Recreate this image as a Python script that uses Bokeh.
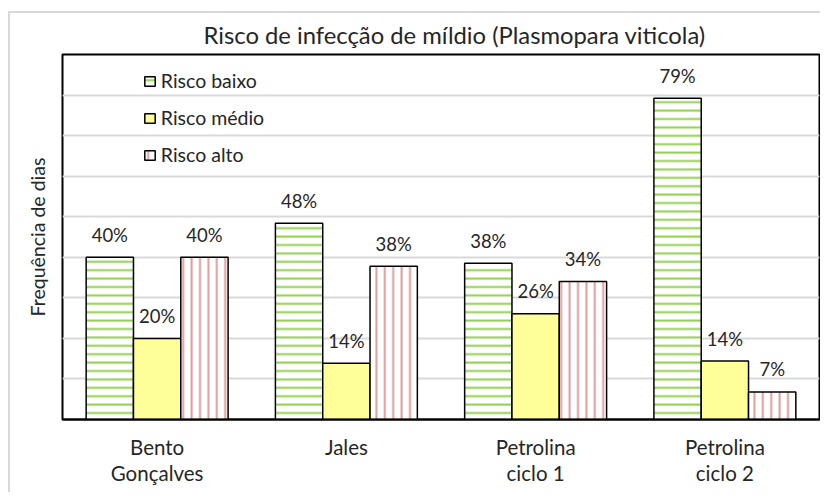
from bokeh.plotting import figure
from bokeh.models import (ColumnDataSource, FactorRange, Range1d, LabelSet, Title,
                          Legend, LegendItem, SingleIntervalTicker, Grid)
from bokeh.core.properties import value
from bokeh.transform import dodge
from bokeh.embed import file_html
from bokeh.resources import INLINE

# ---- data ----
categories = ["Bento\nGonçalves", "Jales", "Petrolina\nciclo 1", "Petrolina\nciclo 2"]
risco_baixo = [0.40, 0.484, 0.385, 0.792]
risco_medio = [0.20, 0.139, 0.261, 0.144]
risco_alto = [0.40, 0.378, 0.340, 0.068]
series_names = ["Risco baixo", "Risco médio", "Risco alto"]
title_text = "Risco de infecção de míldio (Plasmopara viticola)"
y_label = "Frequência de dias"

FONT = "Lato"
TXT = "#262626"

src = ColumnDataSource(dict(
    cat=categories,
    baixo=risco_baixo, medio=risco_medio, alto=risco_alto,
    baixo_lbl=[f"{round(v*100)}%" for v in risco_baixo],
    medio_lbl=[f"{round(v*100)}%" for v in risco_medio],
    alto_lbl=[f"{round(v*100)}%" for v in risco_alto],
))

p = figure(width=812, height=481, x_range=FactorRange(*categories),
           y_range=Range1d(0, 0.9), output_backend="svg", toolbar_location=None,
           y_axis_location=None, title=None,
           min_border_left=52, min_border_right=3, min_border_top=41,
           min_border_bottom=75)
p.styles = {"margin-left": "8px", "margin-top": "11px",
            "border-left": "2px solid #d9d9d9", "border-top": "2px solid #d9d9d9"}
p.x_range.range_padding = 0
p.outline_line_color = "black"
p.outline_line_width = 2
p.background_fill_color = "white"
p.border_fill_color = "white"

# horizontal gridlines every 10 %
p.add_layout(Grid(dimension=1, ticker=SingleIntervalTicker(interval=0.1),
                  grid_line_color="#d9d9d9", grid_line_width=2))
p.xgrid.grid_line_color = None

W = 0.25
common = dict(source=src, width=W, line_color="black", line_width=1.5)
r1 = p.vbar(x=dodge("cat", -W, range=p.x_range), top="baixo", fill_color="white",
            hatch_pattern="horizontal_line", hatch_color="#92d050", hatch_weight=2,
            hatch_scale=8.4, **common)
r2 = p.vbar(x=dodge("cat", 0, range=p.x_range), top="medio", fill_color="#ffff99", **common)
r3 = p.vbar(x=dodge("cat", W, range=p.x_range), top="alto", fill_color="white",
            hatch_pattern="vertical_line", hatch_color="#e09a9a", hatch_weight=2,
            hatch_scale=8.4, **common)

for off, col in [(-W, "baixo"), (0, "medio"), (W, "alto")]:
    p.add_layout(LabelSet(x=dodge("cat", off, range=p.x_range), y=col, text=col + "_lbl",
                          source=src, text_align="center", text_baseline="middle",
                          y_offset=22.5, text_font=value(FONT), text_font_size="18.5px",
                          text_color=TXT))

# x axis
p.xaxis.axis_line_color = "black"
p.xaxis.axis_line_width = 2
p.xaxis.major_tick_line_color = None
p.xaxis.minor_tick_line_color = None
p.xaxis.major_label_text_font = FONT
p.xaxis.major_label_text_font_size = "20.5px"
p.xaxis.major_label_text_color = TXT
p.xaxis.major_label_text_line_height = 1.1
p.xaxis.major_label_standoff = 9

# title
p.add_layout(Title(text=title_text, align="left", offset=141, standoff=11,
                   text_font=FONT, text_font_size="23.8px", text_font_style="normal",
                   text_color=TXT), "above")
# y label as a left-side title
p.add_layout(Title(text=y_label, align="center", standoff=27,
                   text_font=FONT, text_font_size="19.5px", text_font_style="normal",
                   text_color=TXT), "left")

legend = Legend(items=[LegendItem(label=series_names[0], renderers=[r1]),
                       LegendItem(label=series_names[1], renderers=[r2]),
                       LegendItem(label=series_names[2], renderers=[r3])],
                location=(80.8, 252.7), glyph_width=13, glyph_height=12,
                label_height=22, spacing=14, padding=0, margin=0,
                label_standoff=5, label_text_font=FONT, label_text_font_size="19.5px",
                label_text_color=TXT, border_line_alpha=0,
                background_fill_alpha=0)
p.add_layout(legend, "center")

open("out.html", "w").write(file_html(p, INLINE))
